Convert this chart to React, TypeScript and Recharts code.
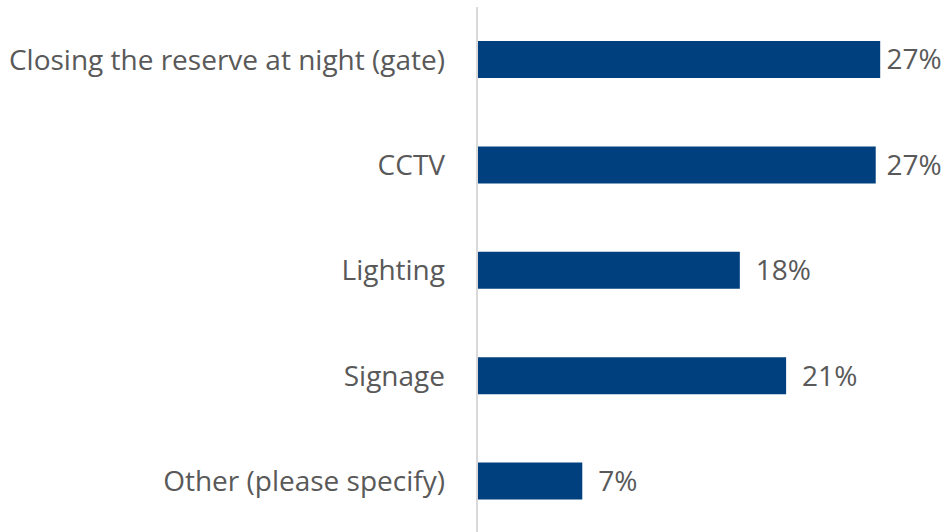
import { BarChart, Bar, XAxis, YAxis, LabelList } from "recharts";

const categories = [
  "Closing the reserve at night (gate)",
  "CCTV",
  "Lighting",
  "Signage",
  "Other (please specify)",
];
const shares = [27.0, 26.7, 17.6, 20.7, 7.05];

const data = categories.map((name, i) => ({ name, value: shares[i] }));

const FONT = "'Open Sans', 'Noto Sans', sans-serif";
const TEXT = "#595959";
const CHART_W = 947;

// value label to the right of the bar, pushed back inside the chart if it would overflow (like Excel)
const ValueLabel = (props: any) => {
  const { x, y, width, height, value } = props;
  const text = `${Math.round(Number(value))}%`;
  const approxW = text.length * 17.5;
  const lx = Math.min(x + width + 16, CHART_W - 8 - approxW);
  return (
    <text x={lx} y={y + height / 2} dy="0.355em" fontSize={28} fill={TEXT} fontFamily={FONT}>
      {text}
    </text>
  );
};

export default function App() {
  return (
    <div style={{ position: "absolute", left: 0, top: 0, width: 947, height: 532, overflow: "hidden", background: "#fff" }}>
      <BarChart
        width={CHART_W}
        height={534}
        data={data}
        layout="vertical"
        margin={{ top: 7, right: 22, bottom: 0, left: 0 }}
      >
        <XAxis type="number" domain={[0, 30]} hide />
        <YAxis
          type="category"
          dataKey="name"
          width={477}
          tickLine={false}
          tickSize={0}
          tickMargin={32}
          axisLine={{ stroke: "#d9d9d9", strokeWidth: 2 }}
          tick={{ fontSize: 28, fill: TEXT, fontFamily: FONT }}
        />
        <Bar dataKey="value" fill="#00407f" barSize={37} isAnimationActive={false}>
          <LabelList dataKey="value" content={ValueLabel} />
        </Bar>
      </BarChart>
    </div>
  );
}
